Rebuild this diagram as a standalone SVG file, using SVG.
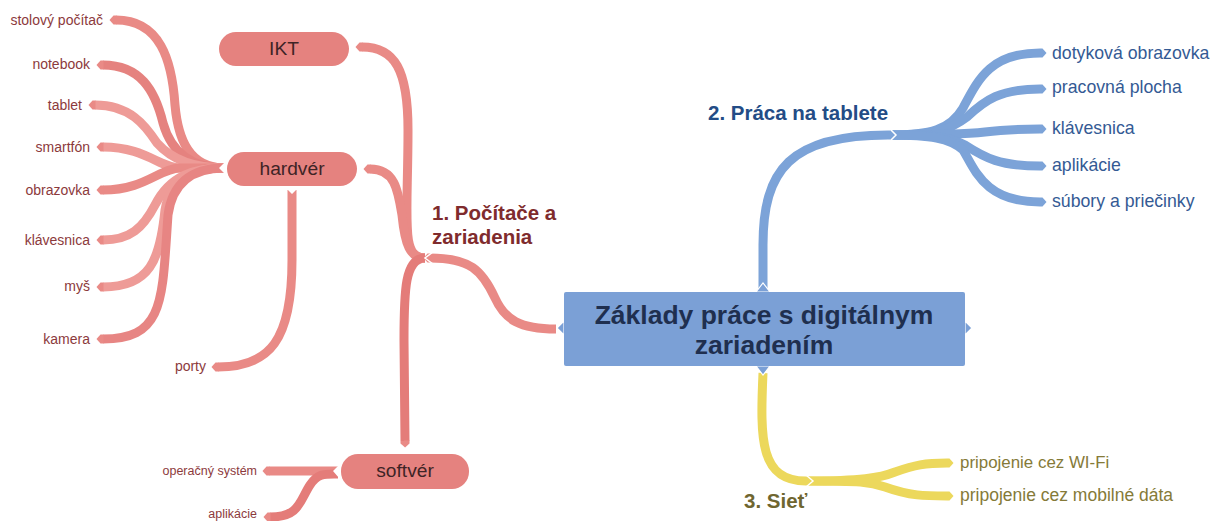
<svg xmlns="http://www.w3.org/2000/svg" width="1211" height="521" viewBox="0 0 1211 521">
<style>
text{font-family:"Liberation Sans",Arial,sans-serif}
.c{fill:none;stroke-width:9;stroke-linecap:butt}
.r{stroke:#e98a86;marker-end:url(#tr)}
.b{stroke:#7ca3d8;marker-end:url(#tb)}
.y{stroke:#ecd85c;marker-end:url(#ty)}
.n{fill:#fff}
.w{fill:none;stroke:#fff;stroke-width:1.5}
.leaf{font-size:14px;fill:#8c3a3c}
.small{font-size:12.5px;fill:#8c3a3c}
.blue{font-size:17.7px;fill:#345a94}
.olive{font-size:17.5px;fill:#857a38}
.pill{fill:#e5827f}
.pl{font-size:19.2px;fill:#3e2426;text-anchor:middle}
.h{font-size:20.5px;font-weight:bold}
</style>
<defs>
<marker id="tr" markerUnits="userSpaceOnUse" markerWidth="8" markerHeight="10" refX="0.5" refY="5" orient="auto"><path d="M0,0.5L3,0.5L7,5L3,9.5L0,9.5Z" fill="#e98a86"/></marker>
<marker id="tb" markerUnits="userSpaceOnUse" markerWidth="8" markerHeight="10" refX="0.5" refY="5" orient="auto"><path d="M0,0.5L3,0.5L7,5L3,9.5L0,9.5Z" fill="#7ca3d8"/></marker>
<marker id="ty" markerUnits="userSpaceOnUse" markerWidth="8" markerHeight="10" refX="0.5" refY="5" orient="auto"><path d="M0,0.5L3,0.5L7,5L3,9.5L0,9.5Z" fill="#ecd85c"/></marker>
</defs>
<g id="connectors">
<path class="c r" d="M224,168C190,168 178,140 175,105C172,60 160,20 116,20"/>
<path class="c r" d="M224,168C195,168 172,155 163,123C155,90 140,65 103,65" style="stroke:#e5827f"/>
<path class="c r" d="M224,168C195,168 172,160 157,143C145,125 130,105 95,105" style="stroke:#ee9b97"/>
<path class="c r" d="M224,168H180C160,168 145,147 103,147" style="stroke:#ee9b97"/>
<path class="c r" d="M224,168H180C160,168 145,190 103,190"/>
<path class="c r" d="M224,168C195,168 170,175 155,205C143,228 130,240 103,240" style="stroke:#ee9b97"/>
<path class="c r" d="M224,168C190,168 170,180 165,210C160,260 150,287 103,287" style="stroke:#ee9b97"/>
<path class="c r" d="M224,168C190,168 172,185 168,215C162,300 165,339 103,339" style="stroke:#e78583"/>
<path class="c r" d="M292,190V260C292,340 270,367 218,367"/>
<path class="c r" d="M425,258C400,258 408,220 408,130C408,70 395,47 362,47"/>
<path class="c r" d="M425,258C410,258 405,245 402,215C398,190 395,169 370,169"/>
<path class="c r" d="M425,258C405,258 404,290 404,340L405,441" style="stroke:#e47c79"/>
<path class="c r" d="M556,329C520,329 505,320 495,298C482,270 470,258 430,258"/>
<path class="c r" d="M338,471H269"/>
<path class="c r" d="M338,474C325,474 318,473 310,485C300,500 300,517 270,517" style="stroke:#e47c79"/>
<path class="c b" d="M890,135C930,135 950,130 963,108C978,80 990,53 1040,53"/>
<path class="c b" d="M890,135C935,135 950,130 967,117C985,100 1000,89 1040,89"/>
<path class="c b" d="M890,135C930,135 960,135 985,132C1000,130 1015,129 1040,129"/>
<path class="c b" d="M890,135C925,135 945,135 965,145C985,158 1000,166 1040,166"/>
<path class="c b" d="M890,135C930,135 950,138 963,150C975,170 985,202 1040,202"/>
<path class="c b" d="M763,288V245C763,170 790,135 888,135"/>
<path class="c y" d="M808,481C860,481 880,478 895,472C915,465 925,463 947,463"/>
<path class="c y" d="M808,481C860,481 870,482 885,487C910,496 925,496 947,496"/>
<path class="c y" d="M763,373C760,440 760,481 806,481"/>
<path class="n" d="M225,162L219,168L225,174ZM287,189L292,194L297,189ZM339,465L333,471L339,478Z"/>
<path class="w" d="M433,252L425,258L433,264M890,129L896,135L890,141M806,475L813,481L806,487"/>
</g>
<g id="root">
<path d="M564,321L557,328L564,335ZM965,321L972,328L965,335ZM756,292L763,283L770,292ZM756,366L763,375L770,366Z" fill="#7ba0d6" stroke="#fff" stroke-width="1.2"/>
<rect x="564" y="292" width="401" height="74" rx="2" fill="#7ba0d6"/>
<text x="764" y="324" font-size="26.5" font-weight="bold" fill="#1f2f4f" text-anchor="middle">Základy práce s digitálnym</text>
<text x="764" y="354" font-size="26.5" font-weight="bold" fill="#1f2f4f" text-anchor="middle">zariadením</text>
</g>
<g id="n1"><text class="h" x="432" y="220" fill="#7f2b2d">1. Počítače a</text><text class="h" x="432" y="244" fill="#7f2b2d">zariadenia</text></g>
<g id="n2"><text class="h" x="708" y="120" fill="#234c86">2. Práca na tablete</text></g>
<g id="n3"><text class="h" x="744" y="508" fill="#6f6630">3. Sieť</text></g>
<g id="ikt"><rect class="pill" x="219" y="32" width="130" height="34" rx="17"/><text class="pl" x="284" y="55">IKT</text></g>
<g id="hardver"><rect class="pill" x="227" y="152" width="130" height="34" rx="17"/><text class="pl" x="292" y="175">hardvér</text></g>
<g id="softver"><rect class="pill" x="341" y="454" width="128" height="35" rx="17"/><text class="pl" x="405" y="477">softvér</text></g>
<g id="l1"><text class="leaf" x="103" y="25" text-anchor="end">stolový počítač</text></g>
<g id="l2"><text class="leaf" x="90" y="69" text-anchor="end">notebook</text></g>
<g id="l3"><text class="leaf" x="82" y="110" text-anchor="end">tablet</text></g>
<g id="l4"><text class="leaf" x="90" y="152" text-anchor="end">smartfón</text></g>
<g id="l5"><text class="leaf" x="90" y="195" text-anchor="end">obrazovka</text></g>
<g id="l6"><text class="leaf" x="90" y="245" text-anchor="end">klávesnica</text></g>
<g id="l7"><text class="leaf" x="90" y="291" text-anchor="end">myš</text></g>
<g id="l8"><text class="leaf" x="90" y="344" text-anchor="end">kamera</text></g>
<g id="l9"><text class="leaf" x="206" y="371" text-anchor="end">porty</text></g>
<g id="l10"><text class="small" x="257" y="475" text-anchor="end">operačný systém</text></g>
<g id="l11"><text class="small" x="257" y="518" text-anchor="end">aplikácie</text></g>
<g id="b1"><text class="blue" x="1052" y="59">dotyková obrazovka</text></g>
<g id="b2"><text class="blue" x="1052" y="93">pracovná plocha</text></g>
<g id="b3"><text class="blue" x="1052" y="134">klávesnica</text></g>
<g id="b4"><text class="blue" x="1052" y="171">aplikácie</text></g>
<g id="b5"><text class="blue" x="1052" y="207">súbory a priečinky</text></g>
<g id="y1"><text class="olive" x="960" y="468" style="font-size:16.9px">pripojenie cez WI-Fi</text></g>
<g id="y2"><text class="olive" x="960" y="501">pripojenie cez mobilné dáta</text></g>
</svg>
